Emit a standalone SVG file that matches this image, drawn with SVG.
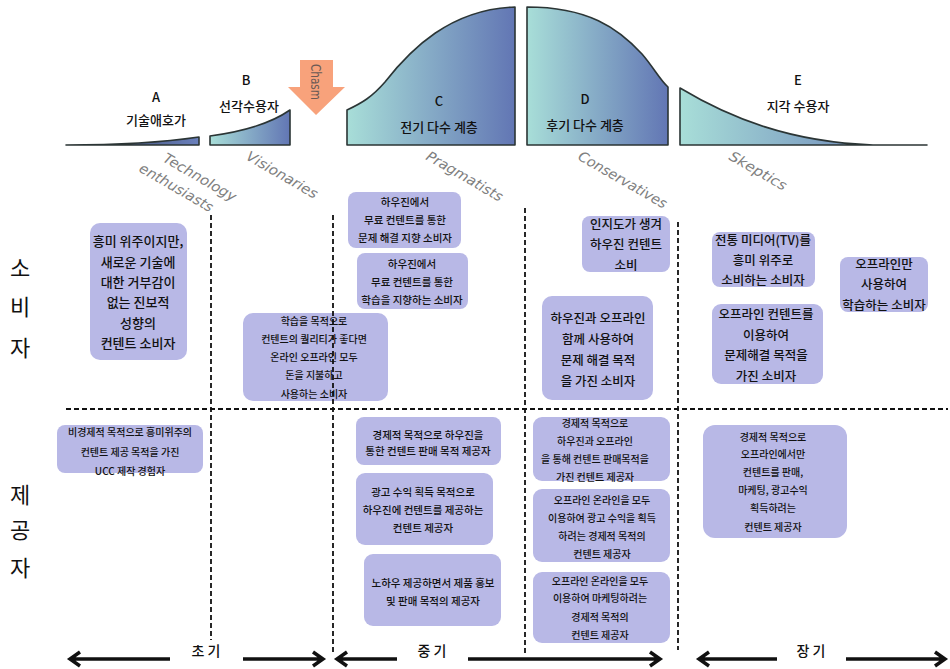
<svg xmlns="http://www.w3.org/2000/svg" width="950" height="669" viewBox="0 0 950 669">
<style>
.bg{fill:#ffffff}
.box{fill:#b8b8e6}
.t{font-family:"Malgun Gothic","Noto Sans CJK KR",sans-serif;fill:#111;text-anchor:middle;font-weight:500}
.f13{font-size:13px}
.f125{font-size:12.5px}
.f105{font-size:10.5px}
.f10{font-size:10px}
.side{font-family:"Noto Sans CJK KR",sans-serif;font-size:22px;fill:#111;text-anchor:middle}
.en{font-family:"DejaVu Sans",sans-serif;font-style:oblique;font-size:14px;fill:#808080}
.curve{stroke:#2b3535;stroke-width:1.6;stroke-linejoin:round}
.dash{fill:none;stroke:#111;stroke-width:1.8;stroke-dasharray:5,3}
.arr{fill:none;stroke:#111;stroke-width:3.5;stroke-linecap:butt;stroke-linejoin:miter}
</style>
<defs>
<linearGradient id="g" x1="0" y1="0" x2="1" y2="0">
<stop offset="0" stop-color="#a8ded8"/>
<stop offset="1" stop-color="#6276b4"/>
</linearGradient>
<linearGradient id="gA" x1="0" y1="0" x2="1" y2="0">
<stop offset="0" stop-color="#2f3a55"/>
<stop offset="1" stop-color="#6a80bc"/>
</linearGradient>
</defs>
<rect class="bg" x="0" y="0" width="950" height="669"/>

<g id="curves">
<path id="curveA" class="curve" fill="url(#gA)" d="M66,145 C120,145 165,142 199,137 L199,145 Z"/>
<path id="curveB" class="curve" fill="url(#g)" d="M210,145 L210,136 C240,132 270,124 290,110 L290,145 Z"/>
<path id="curveC" class="curve" fill="url(#g)" d="M347,145 L347,110 C362,103 372,97 385,82 C410,50 450,9 515,7 L515,145 Z"/>
<path id="curveD" class="curve" fill="url(#g)" d="M527,145 L527,7 C588,7 618,28 642,54 C654,68 660,80 668,87 L668,145 Z"/>
<path id="curveE" class="curve" fill="url(#g)" d="M680,145 L680,88 C730,118 790,142 873,145 L927,145 Z"/>
</g>

<g id="chasm">
<polygon points="300,60 333,60 333,87 345,87 316,115 288,87 300,87" fill="#f8a27b"/>
<text x="316" y="87" transform="rotate(90 316 82)" font-family="'DejaVu Sans',sans-serif" font-size="14" fill="#6b5a55" text-anchor="middle" textLength="36" lengthAdjust="spacingAndGlyphs">Chasm</text>
</g>

<g id="segment-labels">
<text class="t f13" x="156" y="101.5">A</text>
<text class="t f13" x="156" y="124.5">기술애호가</text>
<text class="t f13" x="246" y="84.5">B</text>
<text class="t f13" x="249" y="110.5">선각수용자</text>
<text class="t f13" x="439" y="105.5">C</text>
<text class="t f13" x="439" y="131.5">전기 다수 계층</text>
<text class="t f13" x="585" y="103.5">D</text>
<text class="t f13" x="585" y="129.5">후기 다수 계층</text>
<text class="t f13" x="798" y="84.5">E</text>
<text class="t f13" x="798" y="110.5">지각 수용자</text>
</g>

<g id="english-labels">
<text class="en" x="162" y="161" transform="rotate(30 162 161)" textLength="82" lengthAdjust="spacingAndGlyphs">Technology</text>
<text class="en" x="138" y="171" transform="rotate(30 138 171)" textLength="83" lengthAdjust="spacingAndGlyphs">enthusiasts</text>
<text class="en" x="245" y="159" transform="rotate(30 245 159)" textLength="80" lengthAdjust="spacingAndGlyphs">Visionaries</text>
<text class="en" x="425" y="159" transform="rotate(30 425 159)" textLength="86" lengthAdjust="spacingAndGlyphs">Pragmatists</text>
<text class="en" x="577" y="159" transform="rotate(30 577 159)" textLength="100" lengthAdjust="spacingAndGlyphs">Conservatives</text>
<text class="en" x="728" y="159" transform="rotate(30 728 159)" textLength="64" lengthAdjust="spacingAndGlyphs">Skeptics</text>
</g>

<g id="side-labels">
<text class="side" x="20" y="276">소</text>
<text class="side" x="20" y="315">비</text>
<text class="side" x="20" y="356">자</text>
<text class="side" x="20" y="503">제</text>
<text class="side" x="20" y="538">공</text>
<text class="side" x="20" y="576">자</text>
</g>

<g id="consumer1">
<rect class="box" x="90" y="223" width="97" height="137" rx="10"/>
<text class="t f13" x="138" y="246">흥미 위주이지만,</text>
<text class="t f13" x="138" y="267">새로운 기술에</text>
<text class="t f13" x="138" y="287">대한 거부감이</text>
<text class="t f13" x="138" y="307">없는 진보적</text>
<text class="t f13" x="138" y="328">성향의</text>
<text class="t f13" x="138" y="348">컨텐트 소비자</text>
</g>
<g id="consumer2">
<rect class="box" x="243" y="313" width="145" height="88" rx="10"/>
<text class="t f10" x="314" y="325">학습을 목적으로</text>
<text class="t f10" x="314" y="343">컨텐트의 퀄리티가 좋다면</text>
<text class="t f10" x="314" y="361">온라인 오프라인 모두</text>
<text class="t f10" x="314" y="379">돈을 지불하고</text>
<text class="t f10" x="314" y="398">사용하는 소비자</text>
</g>
<g id="consumer3">
<rect class="box" x="348" y="192" width="113" height="56" rx="8"/>
<text class="t f105" x="405" y="206">하우진에서</text>
<text class="t f105" x="405" y="224">무료 컨텐트를 통한</text>
<text class="t f105" x="405" y="242">문제 해결 지향 소비자</text>
</g>
<g id="consumer4">
<rect class="box" x="357" y="253" width="111" height="56" rx="8"/>
<text class="t f105" x="412" y="268">하우진에서</text>
<text class="t f105" x="412" y="286">무료 컨텐트를 통한</text>
<text class="t f105" x="412" y="304">학습을  지향하는 소비자</text>
</g>
<g id="consumer5">
<rect class="box" x="582" y="216" width="88" height="56" rx="8"/>
<text class="t f125" x="626" y="228.5">인지도가 생겨</text>
<text class="t f125" x="626" y="248.5">하우진 컨텐트</text>
<text class="t f125" x="626" y="269.5">소비</text>
</g>
<g id="consumer6">
<rect class="box" x="542" y="296" width="111" height="104" rx="10"/>
<text class="t f125" x="598" y="322.5">하우진과 오프라인</text>
<text class="t f125" x="598" y="343.5">함께 사용하여</text>
<text class="t f125" x="598" y="364.5">문제 해결 목적</text>
<text class="t f125" x="598" y="385.5">을 가진 소비자</text>
</g>
<g id="consumer7">
<rect class="box" x="712" y="232" width="103" height="55" rx="8"/>
<text class="t f125" x="763" y="244.5">전통 미디어(TV)를</text>
<text class="t f125" x="763" y="264.5">흥미 위주로</text>
<text class="t f125" x="763" y="284.5">소비하는 소비자</text>
</g>
<g id="consumer8">
<rect class="box" x="712" y="304" width="111" height="80" rx="9"/>
<text class="t f125" x="766" y="318.5">오프라인 컨텐트를</text>
<text class="t f125" x="766" y="339.5">이용하여</text>
<text class="t f125" x="766" y="359.5">문제해결 목적을</text>
<text class="t f125" x="766" y="380.5">가진 소비자</text>
</g>
<g id="consumer9">
<rect class="box" x="840" y="257" width="88" height="55" rx="8"/>
<text class="t f125" x="884" y="268.5">오프라인만</text>
<text class="t f125" x="884" y="288.5">사용하여</text>
<text class="t f125" x="884" y="309.5">학습하는 소비자</text>
</g>

<g id="provider1">
<rect class="box" x="57" y="425" width="146" height="48" rx="8"/>
<text class="t f10" x="130" y="436">비경제적 목적으로 흥미위주의</text>
<text class="t f10" x="130" y="456">컨텐트 제공 목적을 가진</text>
<text class="t f10" x="130" y="475">UCC 제작 경험자</text>
</g>
<g id="provider2">
<rect class="box" x="356" y="417" width="145" height="48" rx="8"/>
<text class="t f105" x="428" y="439">경제적 목적으로 하우진을</text>
<text class="t f105" x="428" y="455">통한 컨텐트 판매 목적 제공자</text>
</g>
<g id="provider3">
<rect class="box" x="356" y="473" width="137" height="72" rx="9"/>
<text class="t f105" x="423" y="496">광고 수익 획득 목적으로</text>
<text class="t f105" x="423" y="514">하우진에 컨텐트를 제공하는</text>
<text class="t f105" x="423" y="532">컨텐트 제공자</text>
</g>
<g id="provider4">
<rect class="box" x="364" y="554" width="137" height="72" rx="9"/>
<text class="t f105" x="433" y="587">노하우 제공하면서 제품 홍보</text>
<text class="t f105" x="433" y="605">및 판매 목적의 제공자</text>
</g>
<g id="provider5">
<rect class="box" x="533" y="417" width="137" height="64" rx="9"/>
<text class="t f10" x="595" y="427">경제적 목적으로</text>
<text class="t f10" x="595" y="445">하우진과 오프라인</text>
<text class="t f10" x="595" y="463">을 통해 컨텐트 판매목적을</text>
<text class="t f10" x="595" y="481">가진 컨텐트 제공자</text>
</g>
<g id="provider6">
<rect class="box" x="533" y="489" width="137" height="73" rx="9"/>
<text class="t f10" x="602" y="504">오프라인 온라인을 모두</text>
<text class="t f10" x="602" y="522">이용하여 광고 수익을 획득</text>
<text class="t f10" x="602" y="540">하려는 경제적 목적의</text>
<text class="t f10" x="602" y="558">컨텐트 제공자</text>
</g>
<g id="provider7">
<rect class="box" x="533" y="572" width="137" height="71" rx="9"/>
<text class="t f10" x="600" y="585">오프라인 온라인을 모두</text>
<text class="t f10" x="600" y="602">이용하여 마케팅하려는</text>
<text class="t f10" x="600" y="621">경제적 목적의</text>
<text class="t f10" x="600" y="639">컨텐트 제공자</text>
</g>
<g id="provider8">
<rect class="box" x="703" y="425" width="144" height="113" rx="12"/>
<text class="t f10" x="773" y="441">경제적 목적으로</text>
<text class="t f10" x="773" y="458">오프라인에서만</text>
<text class="t f10" x="773" y="476">컨텐트를 판매,</text>
<text class="t f10" x="773" y="494">마케팅, 광고수익</text>
<text class="t f10" x="773" y="512">획득하려는</text>
<text class="t f10" x="773" y="531">컨텐트 제공자</text>
</g>

<g id="dividers">
<path class="dash" d="M66,409 H948"/>
<path class="dash" d="M211,215 V640"/>
<path class="dash" d="M333,215 V652"/>
<path class="dash" d="M525,208 V655"/>
<path class="dash" d="M678,222 V650"/>
</g>

<g id="period-arrows">
<path class="arr" d="M170,659 H70 M80,652 L70,659 L80,666"/>
<path class="arr" d="M243,659 H323 M313,652 L323,659 L313,666"/>
<path class="arr" d="M397,659 H337 M347,652 L337,659 L347,666"/>
<path class="arr" d="M468,659 H660 M650,652 L660,659 L650,666"/>
<path class="arr" d="M777,659 H699 M709,652 L699,659 L709,666"/>
<path class="arr" d="M846,659 H945 M935,652 L945,659 L935,666"/>
<text class="t" x="206" y="656" font-size="14">초 기</text>
<text class="t" x="432" y="656" font-size="14">중 기</text>
<text class="t" x="811" y="656" font-size="14">장 기</text>
</g>
</svg>
